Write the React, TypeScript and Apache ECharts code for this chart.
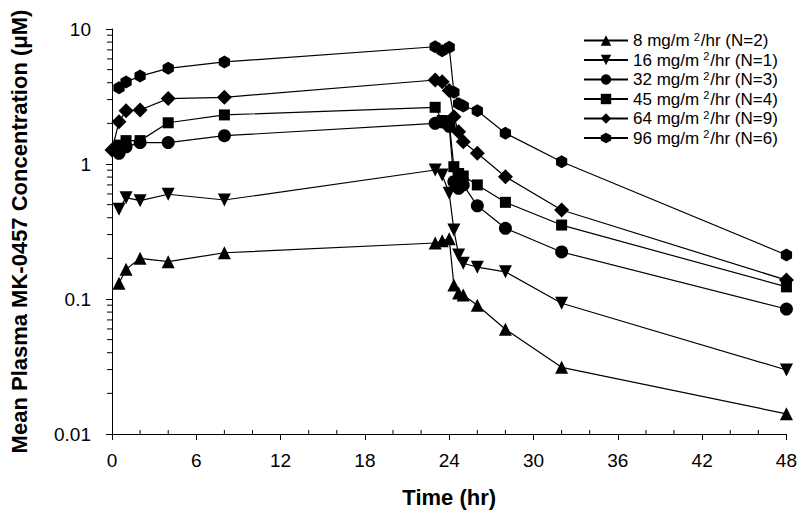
import React, { useEffect, useRef } from "react";
import * as echarts from "echarts";

const seriesNames = [
  "8 mg/m{s|2}/hr (N=2)",
  "16 mg/m{s|2}/hr (N=1)",
  "32 mg/m{s|2}/hr (N=3)",
  "45 mg/m{s|2}/hr (N=4)",
  "64 mg/m{s|2}/hr (N=9)",
  "96 mg/m{s|2}/hr (N=6)",
];

const times8 = [0.5, 1, 2, 4, 8, 23, 23.5, 24, 24.33, 24.67, 25, 26, 28, 32, 48];
const conc8 = [0.131, 0.166, 0.2, 0.189, 0.22, 0.26, 0.27, 0.28, 0.127, 0.111, 0.107, 0.09, 0.0597, 0.0312, 0.0141];

const times16 = [0.5, 1, 2, 4, 8, 23, 23.5, 24, 24.33, 24.67, 25, 26, 28, 32, 48];
const conc16 = [0.462, 0.563, 0.535, 0.597, 0.541, 0.903, 0.829, 0.607, 0.325, 0.212, 0.184, 0.172, 0.159, 0.093, 0.0298];

const times32 = [0.5, 1, 2, 4, 8, 23, 23.5, 24, 24.33, 24.67, 25, 26, 28, 32, 48];
const conc32 = [1.2, 1.34, 1.44, 1.44, 1.62, 2.0, 2.05, 1.9, 0.74, 0.66, 0.7, 0.49, 0.334, 0.223, 0.0843];

const times45 = [0.5, 1, 2, 4, 8, 23, 23.5, 24, 24.33, 24.67, 25, 26, 28, 32, 48];
const conc45 = [1.38, 1.49, 1.49, 2.02, 2.31, 2.63, 2.1, 2.05, 0.955, 0.85, 0.815, 0.7, 0.52, 0.353, 0.123];

const times64 = [0, 0.5, 1, 2, 4, 8, 23, 23.5, 24, 24.33, 24.67, 25, 26, 28, 32, 48];
const conc64 = [1.27, 2.06, 2.48, 2.51, 3.05, 3.12, 4.19, 4.07, 3.5, 2.24, 1.73, 1.46, 1.2, 0.805, 0.456, 0.138];

const times96 = [0.5, 1, 2, 4, 8, 23, 23.5, 24, 24.33, 24.67, 25, 26, 28, 32, 48];
const conc96 = [3.67, 4.05, 4.48, 5.11, 5.7, 7.39, 6.91, 7.32, 3.4, 2.8, 2.69, 2.48, 1.69, 1.04, 0.212];

const xTickLabels = [0, 6, 12, 18, 24, 30, 36, 42, 48];
const yTickLabels = [0.01, 0.1, 1, 10];

const FONT = "Liberation Sans, Arial, sans-serif";

const hexagon = "path://M5,0 L9.33,2.5 L9.33,7.5 L5,10 L0.67,7.5 L0.67,2.5 Z";

const symbols = [
  { symbol: "triangle", size: 13, rotate: 0 },
  { symbol: "triangle", size: 13, rotate: 180 },
  { symbol: "circle", size: 13, rotate: 0 },
  { symbol: "rect", size: 11, rotate: 0 },
  { symbol: "diamond", size: 15, rotate: 0 },
  { symbol: hexagon, size: 13, rotate: 0 },
];

const allTimes = [times8, times16, times32, times45, times64, times96];
const allConc = [conc8, conc16, conc32, conc45, conc64, conc96];

export default function App() {
  const ref = useRef<HTMLDivElement>(null);
  useEffect(() => {
    if (!ref.current) return;
    const chart = echarts.init(ref.current, null, { renderer: "svg" });

    // minor tick positions (axis decoration)
    const minorTicks: number[][] = [];
    for (let k = -2; k <= 0; k++) {
      for (let m = 2; m <= 9; m++) {
        minorTicks.push([0, m * Math.pow(10, k), 0]);
      }
    }
    for (let t = 2; t < 48; t += 2) {
      if (t % 6 !== 0) minorTicks.push([t, 0.01, 1]);
    }

    const lineSeries = seriesNames.map((name, i) => ({
      name,
      type: "line",
      data: allTimes[i].map((t, j) => [t, allConc[i][j]]),
      symbol: symbols[i].symbol,
      symbolSize: symbols[i].size,
      symbolRotate: symbols[i].rotate,
      symbolKeepAspect: true,
      showAllSymbol: true,
      lineStyle: { color: "#000", width: 1.2 },
      itemStyle: { color: "#000", borderWidth: 0 },
      z: 3 + i,
    }));

    chart.setOption({
      animation: false,
      backgroundColor: "#fff",
      textStyle: { fontFamily: FONT },
      grid: { left: 111, right: 11, top: 29, bottom: 84, containLabel: false },
      legend: {
        data: seriesNames,
        orient: "vertical",
        left: 578,
        top: 26,
        itemWidth: 44,
        itemHeight: 13,
        itemGap: 1.5,
        selectedMode: false,
        textStyle: {
          fontSize: 17,
          lineHeight: 16,
          color: "#000",
          fontFamily: FONT,
          rich: {
            s: { fontSize: 11, padding: [0, 1, 8, 4], fontFamily: FONT, color: "#000" },
          },
        },
      },
      xAxis: {
        type: "value",
        min: 0,
        max: 48,
        interval: 6,
        name: "Time (hr)",
        nameLocation: "middle",
        nameGap: 52,
        nameTextStyle: { fontSize: 22, fontWeight: "bold", color: "#000", fontFamily: FONT },
        axisLine: { onZero: false, lineStyle: { color: "#000", width: 1 } },
        axisTick: { length: 6, lineStyle: { color: "#000" } },
        axisLabel: {
          fontSize: 19,
          color: "#000",
          margin: 17,
          fontFamily: FONT,
          formatter: (v: number) => (xTickLabels.includes(v) ? String(v) : ""),
        },
        splitLine: { show: false },
      },
      yAxis: {
        type: "log",
        logBase: 10,
        min: 0.01,
        max: 10,
        name: "Mean Plasma MK-0457 Concentration (\u03bcM)",
        nameLocation: "middle",
        nameRotate: 90,
        nameGap: 82,
        nameTextStyle: { fontSize: 22, fontWeight: "bold", color: "#000", fontFamily: FONT },
        axisLine: { lineStyle: { color: "#000", width: 1 } },
        axisTick: { length: 6, lineStyle: { color: "#000" } },
        axisLabel: {
          fontSize: 19,
          color: "#000",
          margin: 21,
          fontFamily: FONT,
          formatter: (v: number) => {
            const r = parseFloat(Number(v).toPrecision(2));
            return yTickLabels.includes(r) ? String(r) : "";
          },
        },
        splitLine: { show: false },
      },
      series: [
        ...lineSeries,
        {
          type: "custom",
          name: "minorTicks",
          silent: true,
          clip: false,
          data: minorTicks,
          encode: { x: 0, y: 1 },
          renderItem: (params: any, api: any) => {
            const p = api.coord([api.value(0), api.value(1)]);
            const kind = api.value(2);
            if (kind === 0) {
              return {
                type: "line",
                shape: { x1: p[0] - 5, y1: p[1], x2: p[0], y2: p[1] },
                style: { stroke: "#000", lineWidth: 1 },
              };
            }
            return {
              type: "line",
              shape: { x1: p[0], y1: p[1], x2: p[0], y2: p[1] - 4 },
              style: { stroke: "#000", lineWidth: 1 },
            };
          },
          z: 1,
        },
      ],
    });
    return () => chart.dispose();
  }, []);
  return <div ref={ref} style={{ width: 800, height: 518, position: "absolute", left: 0, top: 0 }} />;
}
